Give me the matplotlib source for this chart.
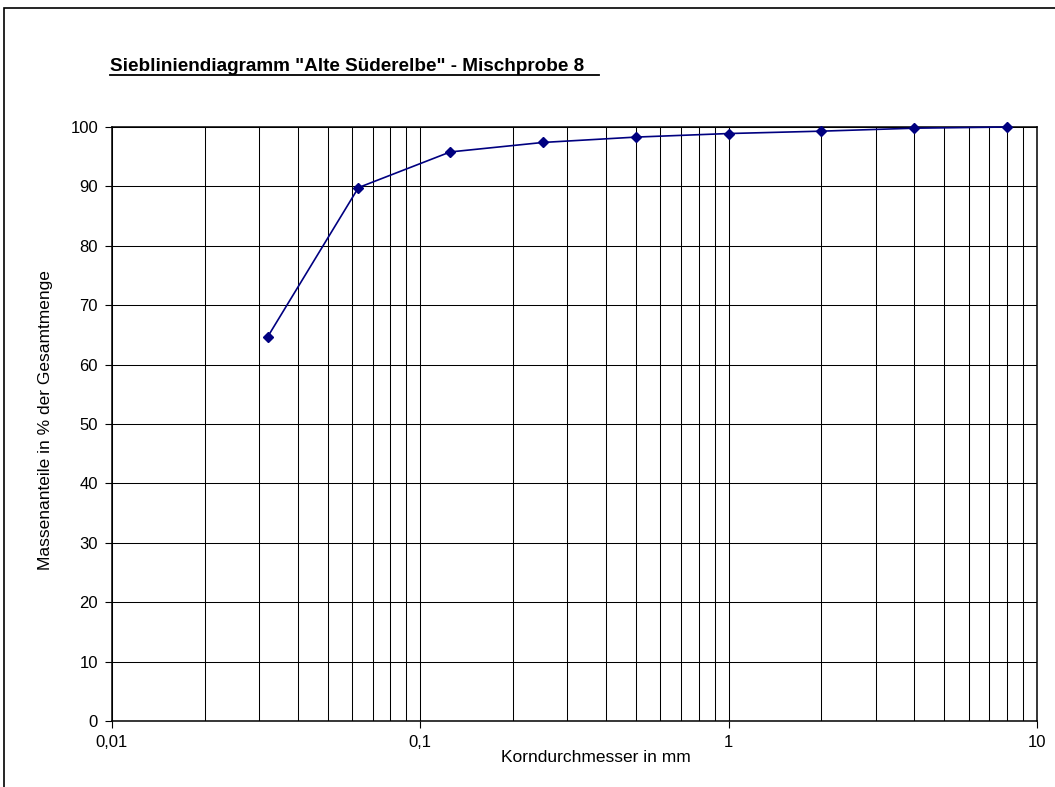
import matplotlib
matplotlib.use("Agg")
import matplotlib.pyplot as plt
from matplotlib.ticker import FixedLocator, FuncFormatter, NullFormatter
from matplotlib.lines import Line2D
from matplotlib.patches import Rectangle

# --- data ---
korndurchmesser = [0.032, 0.063, 0.125, 0.25, 0.5, 1, 2, 4, 8]
massenanteil = [64.7, 89.8, 95.8, 97.4, 98.3, 98.9, 99.3, 99.8, 100.0]
x_major = [0.01, 0.1, 1, 10]
x_minor = [m * d for d in (0.01, 0.1, 1) for m in range(2, 10)]
y_ticks = list(range(0, 101, 10))

plt.rcParams['font.family'] = ['Liberation Sans', 'DejaVu Sans']

W, H = 1055, 787
fig = plt.figure(figsize=(W / 100, H / 100), dpi=100)
fig.patch.set_facecolor('white')

# chart area border (partly cut off in the reference)
fig.patches.append(Rectangle((4 / W, -0.05), 1.2, 1 - 8 / H + 0.05,
                             transform=fig.transFigure, fill=False,
                             edgecolor='black', linewidth=1.2))

ax = fig.add_axes([112 / W, 1 - 721 / H, (1037 - 112) / W, (721 - 127) / H])
ax.set_xscale('log')
ax.set_xlim(0.01, 10)
ax.set_ylim(0, 100)

ax.xaxis.set_major_locator(FixedLocator(x_major))
ax.xaxis.set_minor_locator(FixedLocator(x_minor))
ax.xaxis.set_major_formatter(FuncFormatter(lambda v, p: f"{v:g}".replace('.', ',')))
ax.xaxis.set_minor_formatter(NullFormatter())
ax.yaxis.set_major_locator(FixedLocator(y_ticks))

ax.grid(True, which='both', axis='x', color='black', linewidth=0.75)
ax.grid(True, which='major', axis='y', color='black', linewidth=0.75)
ax.set_axisbelow(True)

ax.tick_params(axis='both', which='major', direction='out', length=5,
               width=0.8, labelsize=12, pad=5)
ax.tick_params(axis='x', which='minor', length=0)
for s in ax.spines.values():
    s.set_color('black')
    s.set_linewidth(1.1)

ax.plot(korndurchmesser, massenanteil, color='#000080', linewidth=1.2,
        marker='D', markersize=5.5, markerfacecolor='#000080',
        markeredgecolor='#000080', clip_on=False, zorder=3)

fig.text(596 / W, 1 - 758 / H, 'Korndurchmesser in mm', ha='center',
         va='center', fontsize=12.5)
fig.text(46 / W, 1 - 420 / H, 'Massenanteile in % der Gesamtmenge',
         ha='center', va='center', rotation=90, fontsize=12.5)

title = fig.text(110 / W, 1 - 71 / H,
                 'Siebliniendiagramm "Alte Süderelbe" - Mischprobe 8',
                 ha='left', va='baseline', fontsize=13.6, fontweight='bold')

# underline the title (Excel's underline runs a bit past the last glyph)
fig.canvas.draw()
bb = title.get_window_extent()
inv = fig.transFigure.inverted()
x0, _ = inv.transform((bb.x0, 0))
x1, _ = inv.transform((bb.x1 + 15, 0))
fig.lines.append(Line2D([x0, x1], [1 - 74.5 / H, 1 - 74.5 / H],
                        transform=fig.transFigure, color='black', linewidth=1.3))

fig.savefig('out.png', dpi=100)
